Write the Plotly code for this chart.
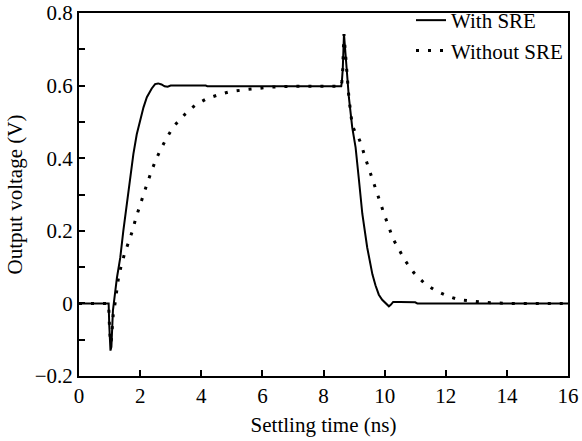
import plotly.graph_objects as go

# Settling time (ns) and output voltage (V)
t_with = [0, 0.97, 0.99, 1.03, 1.06, 1.11, 1.24, 1.35, 1.45, 1.56, 1.67, 1.78, 1.89, 2.0, 2.11,
          2.22, 2.38, 2.49, 2.59, 2.7, 2.8, 2.9, 3.0, 4.15, 4.2, 8.58, 8.6, 8.63, 8.65, 8.67,
          8.69, 8.72, 8.77, 8.83, 8.94, 9.05, 9.16, 9.27, 9.43, 9.6, 9.7, 9.81, 9.92, 10.03,
          10.14, 10.2, 10.28, 10.5, 11.0, 11.07, 16]
v_with = [0, 0, -0.06, -0.13, -0.12, -0.02, 0.07, 0.126, 0.20, 0.275, 0.349, 0.412, 0.466, 0.503, 0.54,
          0.568, 0.592, 0.604, 0.606, 0.603, 0.598, 0.597, 0.6, 0.6, 0.598, 0.598, 0.61, 0.645, 0.70, 0.742,
          0.72, 0.688, 0.614, 0.568, 0.485, 0.43, 0.34, 0.247, 0.154, 0.08, 0.05, 0.024, 0.01, 0.001,
          -0.008, -0.004, 0.004, 0.004, 0.003, 0, 0]

t_without = [0, 0.97, 0.99, 1.03, 1.06, 1.12, 1.18, 1.24, 1.29, 1.37, 1.49, 1.62, 1.75, 1.86, 1.98,
             2.11, 2.24, 2.38, 2.52, 2.69, 2.87, 3.09, 3.3, 3.48, 3.8, 4.16, 4.53, 4.93, 5.35, 5.8,
             6.3, 7.0, 8.58, 8.6, 8.63, 8.65, 8.67, 8.69, 8.72, 8.77, 8.83, 8.94, 9.02, 9.10, 9.24,
             9.35, 9.48, 9.59, 9.72, 9.87, 10.0, 10.14, 10.28, 10.48, 10.66, 10.96, 11.32, 11.67,
             12.03, 12.44, 12.85, 13.28, 13.7, 14.1, 16]
v_without = [0, 0, -0.05, -0.11, -0.10, -0.03, 0.0, 0.033, 0.07, 0.10, 0.137, 0.168, 0.20, 0.235, 0.268,
             0.30, 0.333, 0.366, 0.397, 0.427, 0.456, 0.487, 0.507, 0.522, 0.546, 0.563, 0.574, 0.583, 0.588, 0.592,
             0.596, 0.598, 0.598, 0.61, 0.645, 0.70, 0.742, 0.72, 0.688, 0.614, 0.568, 0.49, 0.475, 0.466, 0.437,
             0.405, 0.372, 0.34, 0.307, 0.275, 0.242, 0.21, 0.177, 0.147, 0.119, 0.084, 0.054, 0.035,
             0.021, 0.01, 0.006, 0.003, 0.001, 0, 0]

x_ticks = [0, 2, 4, 6, 8, 10, 12, 14, 16]
y_ticks = [-0.2, 0, 0.2, 0.4, 0.6, 0.8]
y_tick_text = ["\u22120.2", "0", "0.2", "0.4", "0.6", "0.8"]

FONT = "Liberation Serif"
FS = 21

fig = go.Figure()
fig.add_trace(go.Scatter(x=t_with, y=v_with, mode="lines", name="With SRE",
                         legendgroup="a",
                         line=dict(color="black", width=2)))
fig.add_trace(go.Scatter(x=t_without, y=v_without, mode="lines", name="Without SRE",
                         legendgroup="b",
                         line=dict(color="black", width=3, dash="3px,9px")))

axis_common = dict(showline=True, linecolor="black", linewidth=2, mirror=True,
                   ticks="inside", ticklen=6, tickwidth=1.5, tickcolor="black",
                   showgrid=False, zeroline=False, automargin=False,
                   tickfont=dict(family=FONT, size=FS, color="black"))

fig.update_xaxes(range=[0, 16], tickvals=x_ticks,
                 title=dict(text="Settling time (ns)", font=dict(family=FONT, size=FS, color="black"),
                            standoff=10),
                 **axis_common)
fig.update_yaxes(range=[-0.2, 0.8], tickvals=y_ticks, ticktext=y_tick_text,
                 minor=dict(dtick=0.1, tick0=0, ticks="inside", ticklen=6, tickwidth=1.5, tickcolor="black"),
                 title=dict(text="Output voltage (V)", font=dict(family=FONT, size=FS, color="black"),
                            standoff=6),
                 **axis_common)

fig.update_layout(
    width=582, height=441,
    margin=dict(l=79, r=14, t=13, b=65, autoexpand=False),
    paper_bgcolor="white", plot_bgcolor="white",
    font=dict(family=FONT, size=FS, color="black"),
    showlegend=True,
    legend=dict(x=1.0, y=1.008, xanchor="right", yanchor="top",
                xref="paper", yref="container",
                bgcolor="rgba(0,0,0,0)", borderwidth=0,
                font=dict(family=FONT, size=FS, color="black"),
                tracegroupgap=0),
)

fig.write_html("out.html")
